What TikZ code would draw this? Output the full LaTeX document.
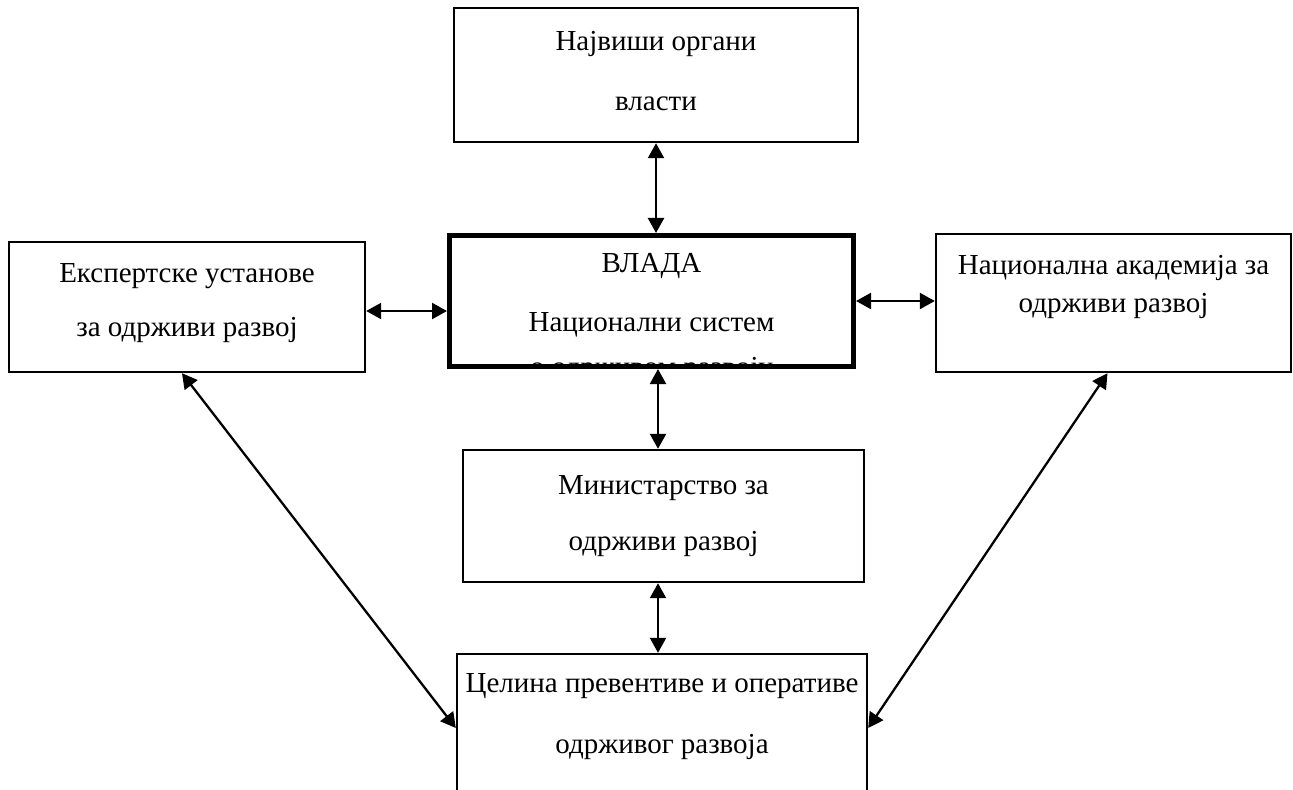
\documentclass[tikz,border=0pt]{standalone}
\usepackage{fontspec}
\setmainfont{Liberation Serif}
\usepackage{tikz}
\usetikzlibrary{arrows.meta,positioning,calc}
\tikzset{
    box/.style={draw,line width=1.4pt,align=center,inner sep=0pt},
    gov box/.style={draw,line width=2.9pt,inner sep=0pt},
    txt/.style={font=\fontsize{16.5}{#1}\selectfont},
    txt/.default=33pt,
    darr/.style={<->,>={Triangle[length=0.3cm,width=0.32cm]},line width=1.3pt},
}

\begin{document}
\begin{tikzpicture}[x=0.02cm,y=-0.02cm]
    \useasboundingbox (0,0) rectangle (1293,789);

    \node[box,txt=34pt,minimum width=8.08cm,minimum height=2.68cm] (organi) at (656,75) {Највиши органи\\власти\rule[-5pt]{0pt}{1pt}};
    \node[box,txt=31pt,minimum width=7.12cm,minimum height=2.6cm] (expert) at (187,307) {Експертске установе\\за одрживи развој\rule[-8pt]{0pt}{1pt}};
    \node[box,txt=21.5pt,minimum width=7.1cm,minimum height=2.76cm] (academy) at (1113.5,303) {Национална академија за\\одрживи развој\\\mbox{}};
    \node[box,txt=31.5pt,minimum width=8.02cm,minimum height=2.64cm] (ministry) at (663.5,516) {Министарство за\\одрживи развој};
    \node[box,txt=35pt,minimum width=8.2cm,minimum height=3.6cm] (celina) at (662,744) {Целина превентиве и оперативе\\одрживог развоја\\\mbox{}};

    % government box, last line runs under the frame
    \node[gov box,minimum width=8.08cm,minimum height=2.62cm] (vlada) at (651.5,301) {};
    \begin{scope}
        \clip ([shift={(0.1cm,0.1cm)}]vlada.south west) rectangle ([shift={(-0.1cm,-0.1cm)}]vlada.north east);
        \node[txt=22pt,align=center] (vlada text) at ([yshift=-0.34cm]vlada.center) {ВЛАДА\\[12pt]Национални систем\\[3.5pt]о одрживом развоју};
    \end{scope}

    \draw[darr] (organi.south) -- (organi.south |- vlada.north);
    \draw[darr] (expert.east |- 0,311) -- (vlada.west |- 0,311);
    \draw[darr] (vlada.east |- 0,301) -- (academy.west |- 0,301);
    \draw[darr] (vlada.south -| 658,0) -- (ministry.north -| 658,0);
    \draw[darr] (ministry.south -| 658,0) -- (celina.north -| 658,0);
    \draw[darr] ([xshift=-0.1cm]expert.south) -- (celina.west |- 0,728);
    \draw[darr] ([xshift=-0.12cm]academy.south) -- (celina.east |- 0,728);
\end{tikzpicture}
\end{document}
